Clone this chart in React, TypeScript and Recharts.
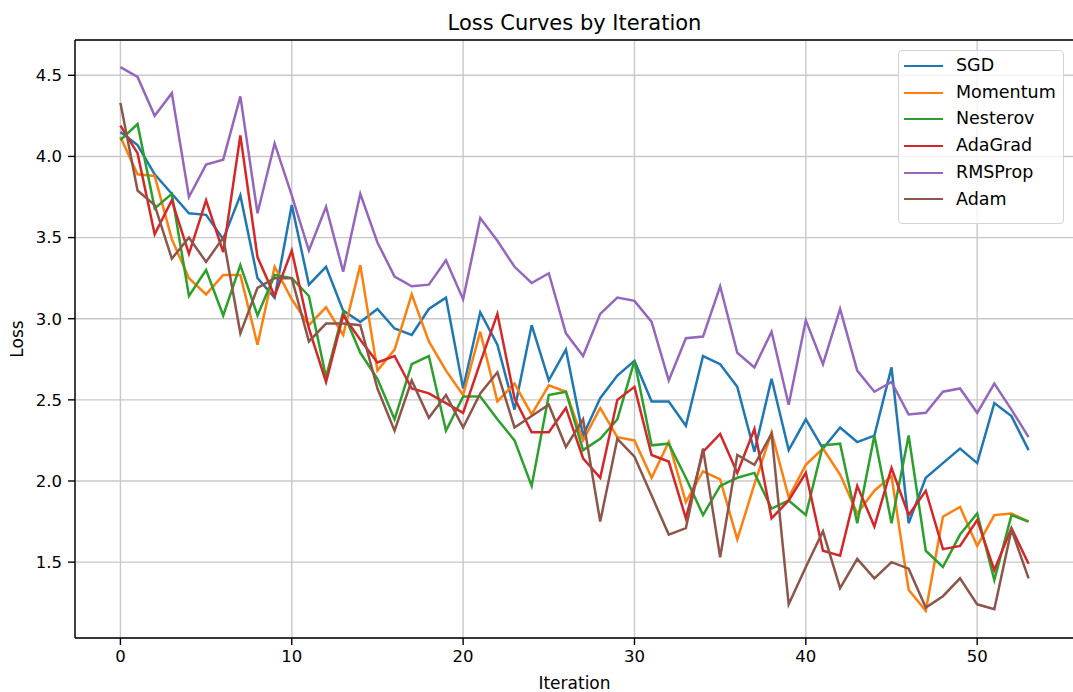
import {
  LineChart,
  Line,
  XAxis,
  YAxis,
  CartesianGrid,
  Legend,
  ReferenceLine,
} from "recharts";

const ITERATIONS = Array.from({ length: 54 }, (_, i) => i);

const SGD = [
  4.15, 4.07, 3.89, 3.77, 3.65, 3.64, 3.49, 3.76, 3.25, 3.13,
  3.70, 3.21, 3.32, 3.05, 2.98, 3.06, 2.94, 2.90, 3.06, 3.13,
  2.57, 3.04, 2.84, 2.44, 2.96, 2.62, 2.81, 2.28, 2.51, 2.65,
  2.74, 2.49, 2.49, 2.34, 2.77, 2.72, 2.58, 2.18, 2.63, 2.19,
  2.38, 2.20, 2.33, 2.24, 2.28, 2.70, 1.74, 2.02, 2.11, 2.20,
  2.11, 2.48, 2.40, 2.19,
];

const MOMENTUM = [
  4.12, 3.89, 3.88, 3.49, 3.25, 3.15, 3.27, 3.27, 2.84, 3.32,
  3.12, 2.96, 3.07, 2.90, 3.33, 2.68, 2.81, 3.15, 2.86, 2.68,
  2.53, 2.92, 2.49, 2.60, 2.41, 2.59, 2.55, 2.25, 2.45, 2.27,
  2.25, 2.02, 2.24, 1.87, 2.06, 2.01, 1.64, 1.98, 2.30, 1.90,
  2.10, 2.20, 2.04, 1.80, 1.94, 2.03, 1.33, 1.20, 1.78, 1.84,
  1.60, 1.79, 1.80, 1.75,
];

const NESTEROV = [
  4.10, 4.20, 3.68, 3.77, 3.14, 3.30, 3.02, 3.33, 3.02, 3.27,
  3.25, 3.14, 2.64, 3.04, 2.79, 2.63, 2.38, 2.72, 2.77, 2.31,
  2.52, 2.52, 2.38, 2.25, 1.97, 2.53, 2.55, 2.19, 2.26, 2.38,
  2.74, 2.22, 2.23, 2.02, 1.79, 1.97, 2.02, 2.05, 1.83, 1.88,
  1.79, 2.22, 2.23, 1.74, 2.28, 1.74, 2.28, 1.57, 1.47, 1.67,
  1.80, 1.39, 1.79, 1.75,
];

const ADAGRAD = [
  4.19, 4.02, 3.52, 3.73, 3.40, 3.73, 3.41, 4.13, 3.38, 3.14,
  3.42, 2.94, 2.61, 3.02, 2.87, 2.73, 2.77, 2.57, 2.54, 2.48,
  2.42, 2.73, 3.03, 2.51, 2.30, 2.30, 2.45, 2.14, 2.02, 2.50,
  2.58, 2.16, 2.12, 1.77, 2.18, 2.29, 2.05, 2.32, 1.77, 1.88,
  2.05, 1.57, 1.54, 1.97, 1.72, 2.08, 1.79, 1.94, 1.58, 1.60,
  1.76, 1.45, 1.71, 1.49,
];

const RMSPROP = [
  4.55, 4.49, 4.25, 4.39, 3.75, 3.95, 3.98, 4.37, 3.65, 4.08,
  3.76, 3.42, 3.69, 3.29, 3.77, 3.47, 3.26, 3.20, 3.21, 3.36,
  3.12, 3.62, 3.48, 3.32, 3.22, 3.28, 2.91, 2.77, 3.03, 3.13,
  3.11, 2.98, 2.62, 2.88, 2.89, 3.20, 2.79, 2.70, 2.92, 2.47,
  2.99, 2.72, 3.06, 2.68, 2.55, 2.61, 2.41, 2.42, 2.55, 2.57,
  2.42, 2.60, 2.44, 2.27,
];

const ADAM = [
  4.33, 3.79, 3.70, 3.37, 3.50, 3.35, 3.50, 2.91, 3.19, 3.25,
  3.25, 2.86, 2.97, 2.97, 2.96, 2.57, 2.31, 2.62, 2.39, 2.53,
  2.33, 2.54, 2.67, 2.33, 2.40, 2.47, 2.21, 2.38, 1.75, 2.26,
  2.15, 1.91, 1.67, 1.71, 2.20, 1.53, 2.16, 2.10, 2.29, 1.24,
  1.47, 1.69, 1.34, 1.52, 1.40, 1.50, 1.46, 1.22, 1.29, 1.40,
  1.24, 1.21, 1.70, 1.40,
];

const X_TICKS = [0, 10, 20, 30, 40, 50];
const Y_TICKS = [1.5, 2.0, 2.5, 3.0, 3.5, 4.0, 4.5];

const X_MIN = -2.65;
const X_MAX = 55.65;
const Y_MIN = 1.0325;
const Y_MAX = 4.7175;

const SERIES = [
  { key: "SGD", values: SGD, color: "#1f77b4" },
  { key: "Momentum", values: MOMENTUM, color: "#ff7f0e" },
  { key: "Nesterov", values: NESTEROV, color: "#2ca02c" },
  { key: "AdaGrad", values: ADAGRAD, color: "#d62728" },
  { key: "RMSProp", values: RMSPROP, color: "#9467bd" },
  { key: "Adam", values: ADAM, color: "#8c564b" },
];
const SERIES_ORDER = SERIES.map((s) => s.key);

const data = ITERATIONS.map((it, i) => {
  const row: Record<string, number> = { iteration: it };
  SERIES.forEach((s) => {
    row[s.key] = s.values[i];
  });
  return row;
});

const FONT = "'DejaVu Sans', sans-serif";

// eslint-disable-next-line @typescript-eslint/no-explicit-any
function LegendBox({ payload }: any) {
  // keep plotting order instead of the alphabetical default
  const items = [...(payload ?? [])].sort(
    (a: { value: string }, b: { value: string }) =>
      SERIES_ORDER.indexOf(a.value) - SERIES_ORDER.indexOf(b.value)
  );
  return (
    <div
      style={{
        boxSizing: "border-box",
        width: 166,
        height: 174,
        border: "1px solid #d4d4d4",
        borderRadius: 4,
        background: "rgba(255,255,255,0.8)",
        padding: "1.5px 0 0 5px",
        fontFamily: FONT,
      }}
    >
      {items.map((p: { value: string; color: string }) => (
        <div
          key={p.value}
          style={{ display: "flex", alignItems: "center", height: 26.7 }}
        >
          <span
            style={{
              display: "inline-block",
              width: 39,
              borderTop: `2.5px solid ${p.color}`,
              marginRight: 13,
            }}
          />
          <span style={{ fontSize: 17.5, lineHeight: 1, color: "#000" }}>
            {p.value}
          </span>
        </div>
      ))}
    </div>
  );
}

export default function App() {
  return (
    <div
      style={{
        position: "absolute",
        left: 0,
        top: 0,
        width: 1073,
        height: 692,
        overflow: "hidden",
        background: "#fff",
        fontFamily: FONT,
      }}
    >
      <div
        style={{
          position: "absolute",
          left: 574.5,
          top: 13,
          transform: "translateX(-50%)",
          whiteSpace: "nowrap",
          fontSize: 21,
          lineHeight: "21px",
          color: "#000",
        }}
      >
        Loss Curves by Iteration
      </div>

      <LineChart
        width={1076}
        height={692}
        data={data}
        margin={{ top: 40, right: 2, bottom: 0, left: 0 }}
      >
        <CartesianGrid stroke="#c8c8c8" strokeWidth={1.4} />
        <XAxis
          dataKey="iteration"
          type="number"
          domain={[X_MIN, X_MAX]}
          ticks={X_TICKS}
          allowDataOverflow
          height={54}
          axisLine={{ stroke: "#000", strokeWidth: 1.4 }}
          tickLine={{ stroke: "#000", strokeWidth: 1.4 }}
          tickSize={7}
          tickMargin={5}
          tick={{ fill: "#000", fontSize: 16.5, fontFamily: FONT }}
          label={{
            // eslint-disable-next-line @typescript-eslint/no-explicit-any
            content: ({ viewBox }: any) => (
              <text
                x={viewBox.x + viewBox.width / 2}
                y={viewBox.y + viewBox.height - 3}
                textAnchor="middle"
                fontSize={17}
                fontFamily={FONT}
                fill="#000"
              >
                Iteration
              </text>
            ),
          }}
        />
        <YAxis
          type="number"
          domain={[Y_MIN, Y_MAX]}
          ticks={Y_TICKS}
          allowDataOverflow
          width={75}
          axisLine={{ stroke: "#000", strokeWidth: 1.4 }}
          tickLine={{ stroke: "#000", strokeWidth: 1.4 }}
          tickSize={7}
          tickMargin={6}
          tickFormatter={(v: number) => v.toFixed(1)}
          tick={{ fill: "#000", fontSize: 16.5, fontFamily: FONT }}
          label={{
            // eslint-disable-next-line @typescript-eslint/no-explicit-any
            content: ({ viewBox }: any) => {
              const cx = 17;
              const cy = viewBox.y + viewBox.height / 2;
              return (
                <text
                  x={cx}
                  y={cy}
                  transform={`rotate(-90, ${cx}, ${cy})`}
                  textAnchor="middle"
                  dominantBaseline="central"
                  fontSize={17}
                  fontFamily={FONT}
                  fill="#000"
                >
                  Loss
                </text>
              );
            },
          }}
        />
        {/* top and right spines */}
        <ReferenceLine y={Y_MAX} stroke="#000" strokeWidth={1.4} />
        <ReferenceLine x={X_MAX} stroke="#000" strokeWidth={1.4} />
        {SERIES.map((s) => (
          <Line
            key={s.key}
            type="linear"
            dataKey={s.key}
            name={s.key}
            stroke={s.color}
            strokeWidth={2.5}
            dot={false}
            activeDot={false}
            isAnimationActive={false}
          />
        ))}
        <Legend
          layout="vertical"
          align="center"
          verticalAlign="middle"
          content={<LegendBox />}
          wrapperStyle={{ top: 50, left: 898, width: 166, height: 174 }}
        />
      </LineChart>
    </div>
  );
}
